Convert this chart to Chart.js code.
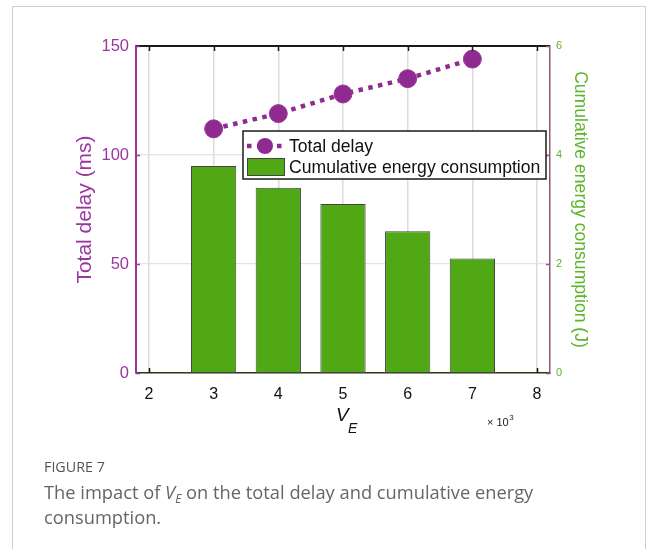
<!DOCTYPE html>
<html>
<head>
<meta charset="utf-8">
<script src="https://cdn.jsdelivr.net/npm/chart.js@4/dist/chart.umd.min.js"></script>
<style>
  html, body { margin: 0; padding: 0; background: #fff; }
  #wrap { position: relative; width: 656px; height: 549px; overflow: hidden; }
  #frame { position: absolute; left: 12px; top: 6px; width: 634px; height: 600px;
           border: 1px solid #cfcfcf; box-sizing: border-box; }
  canvas { position: absolute; left: 0; top: 0; }
  #caption { position: absolute; left: 44px; top: 457px; width: 590px;
             font-family: "Open Sans", "Noto Sans", sans-serif; color: #666; }
  #caption .fig { font-size: 14.3px; color: #555; line-height: 20px; }
  #caption .txt { font-size: 18.3px; line-height: 25px; margin-top: 2px; }
  #caption sub { font-size: 12px; vertical-align: -4px; line-height: 0; }
</style>
</head>
<body>
<div id="wrap">
  <div id="frame"></div>
  <canvas id="c" width="656" height="549"></canvas>
  <div id="caption">
    <div class="fig">FIGURE 7</div>
    <div class="txt">The impact of <i>V</i><sub><i>E</i></sub> on the total delay and cumulative energy<br>consumption.</div>
  </div>
</div>
<script>
// V_E values (×10^3)
const veValues = [3, 4, 5, 6, 7];
// Total delay (ms)
const totalDelay = [112, 119, 128, 135, 144];
// Cumulative energy consumption (J)
const energyUse = [3.8, 3.4, 3.1, 2.6, 2.1];
// Axis ranges and ticks
const xRange = [1.8, 8.2];
const delayTicks = [0, 50, 100, 150];
const energyTicks = [0, 2, 4, 6];

const PURPLE = '#8f2a91';
const PURPLE_TXT = '#9b36a0';
const GREEN = '#50a814';
const GREEN_TXT = '#5cb52a';
const MAUVE = '#8c5a6e';
const FONT = '"Liberation Sans", Arial, sans-serif';

const delayPoints = veValues.map((v, i) => ({ x: v, y: totalDelay[i] }));
const energyPoints = veValues.map((v, i) => ({ x: v, y: energyUse[i] }));

// Extra decorations: top frame, inside tick marks, x-axis label, legend box
const decor = {
  id: 'decor',
  beforeDatasetsDraw(chart) {
    const { ctx, chartArea: a, scales } = chart;
    ctx.save();
    ctx.strokeStyle = '#111';
    ctx.lineWidth = 1.5;
    scales.x.ticks.forEach(t => {
      const px = Math.round(scales.x.getPixelForValue(t.value)) + 0.5;
      ctx.beginPath(); ctx.moveTo(px, a.bottom); ctx.lineTo(px, a.bottom - 5); ctx.stroke();
    });
    ctx.restore();
  },
  afterDraw(chart) {
    const { ctx, chartArea: a, scales } = chart;
    ctx.save();
    // top frame line
    ctx.strokeStyle = '#1a1a1a';
    ctx.lineWidth = 2;
    ctx.beginPath(); ctx.moveTo(a.left, a.top); ctx.lineTo(a.right, a.top); ctx.stroke();
    // top ticks
    ctx.lineWidth = 1.5;
    scales.x.ticks.forEach(t => {
      const px = Math.round(scales.x.getPixelForValue(t.value)) + 0.5;
      ctx.beginPath(); ctx.moveTo(px, a.top); ctx.lineTo(px, a.top + 5); ctx.stroke();
    });
    // left ticks (inside)
    ctx.strokeStyle = PURPLE_TXT;
    scales.y.ticks.forEach(t => {
      const py = Math.round(scales.y.getPixelForValue(t.value)) + 0.5;
      ctx.beginPath(); ctx.moveTo(a.left, py); ctx.lineTo(a.left + 4, py); ctx.stroke();
    });
    // right ticks (inside)
    ctx.strokeStyle = MAUVE;
    scales.y1.ticks.forEach(t => {
      const py = Math.round(scales.y1.getPixelForValue(t.value)) + 0.5;
      ctx.beginPath(); ctx.moveTo(a.right, py); ctx.lineTo(a.right - 4, py); ctx.stroke();
    });

    // x-axis label V_E and multiplier
    ctx.fillStyle = '#111';
    ctx.textBaseline = 'alphabetic';
    ctx.textAlign = 'left';
    const cx = (a.left + a.right) / 2;
    ctx.font = 'italic 19px ' + FONT;
    ctx.fillText('V', cx - 7, a.bottom + 48);
    ctx.font = 'italic 14px ' + FONT;
    ctx.fillText('E', cx + 5, a.bottom + 60);
    ctx.font = '11px ' + FONT;
    ctx.fillStyle = '#222';
    const mx = a.right - 63;
    ctx.fillText('\u00d7 10', mx, a.bottom + 53);
    const mw = ctx.measureText('\u00d7 10').width;
    ctx.font = '8px ' + FONT;
    ctx.fillText('3', mx + mw + 0.5, a.bottom + 47);

    // legend box
    const lx = a.left + 107, ly = a.top + 85, lw = 303, lh = 48;
    ctx.fillStyle = '#fff';
    ctx.fillRect(lx, ly, lw, lh);
    ctx.strokeStyle = '#1a1a1a';
    ctx.lineWidth = 1.5;
    ctx.strokeRect(lx, ly, lw, lh);
    // line entry
    const r1 = ly + 15;
    ctx.strokeStyle = PURPLE;
    ctx.lineWidth = 4.5;
    ctx.setLineDash([4.5, 5.5]);
    ctx.beginPath(); ctx.moveTo(lx + 4, r1); ctx.lineTo(lx + 41, r1); ctx.stroke();
    ctx.setLineDash([]);
    ctx.fillStyle = PURPLE;
    ctx.beginPath(); ctx.arc(lx + 22, r1, 8, 0, Math.PI * 2); ctx.fill();
    // bar entry
    const r2 = ly + 36;
    ctx.fillStyle = GREEN;
    ctx.fillRect(lx + 4, r2 - 9, 38, 18);
    ctx.strokeStyle = '#444';
    ctx.lineWidth = 1;
    ctx.strokeRect(lx + 4.5, r2 - 8.5, 37, 17);
    // labels
    ctx.fillStyle = '#111';
    ctx.font = '17.6px ' + FONT;
    ctx.textBaseline = 'middle';
    ctx.fillText('Total delay', lx + 46, r1 + 1);
    ctx.fillText('Cumulative energy consumption', lx + 46, r2 + 1);
    ctx.restore();
  }
};

new Chart(document.getElementById('c'), {
  type: 'bar',
  data: {
    datasets: [
      {
        type: 'line',
        label: 'Total delay',
        data: delayPoints,
        yAxisID: 'y',
        order: 0,
        borderColor: PURPLE,
        borderWidth: 4.5,
        borderDash: [4.5, 5.5],
        borderCapStyle: 'butt',
        pointRadius: 9,
        pointBackgroundColor: PURPLE,
        pointBorderColor: '#9a3a9c',
        pointBorderWidth: 1,
        tension: 0
      },
      {
        type: 'bar',
        label: 'Cumulative energy consumption',
        data: energyPoints,
        yAxisID: 'y1',
        order: 1,
        backgroundColor: GREEN,
        borderColor: '#444',
        borderWidth: 1,
        borderSkipped: false,
        barPercentage: 0.7,
        categoryPercentage: 1.0
      }
    ]
  },
  options: {
    responsive: false,
    animation: false,
    layout: { padding: { top: 46, left: 0, right: 0, bottom: 0 } },
    plugins: { legend: { display: false }, tooltip: { enabled: false } },
    scales: {
      x: {
        type: 'linear',
        position: 'bottom',
        min: xRange[0],
        max: xRange[1],
        offset: false,
        grid: { offset: false, color: '#dcdcdc', lineWidth: 1.5, drawTicks: false },
        border: { color: '#243d16', width: 1.5 },
        ticks: { stepSize: 1, includeBounds: false, padding: 12, color: '#111',
                 font: { family: FONT, size: 16 } },
        afterFit(s) { s.width; s.height = 176; }
      },
      y: {
        position: 'left',
        min: delayTicks[0],
        max: delayTicks[delayTicks.length - 1],
        grid: { color: '#f1d9f1', lineWidth: 1.2, drawTicks: false },
        border: { color: PURPLE_TXT, width: 2 },
        ticks: { stepSize: 50, padding: 7, color: PURPLE_TXT,
                 font: { family: FONT, size: 16.5 } },
        title: { display: true, text: 'Total delay (ms)', color: PURPLE_TXT,
                 font: { family: FONT, size: 21 }, padding: { top: 73 } },
        afterFit(s) { s.width = 136; }
      },
      y1: {
        position: 'right',
        min: energyTicks[0],
        max: energyTicks[energyTicks.length - 1],
        grid: { display: false, drawTicks: false },
        border: { color: MAUVE, width: 1.5 },
        ticks: { stepSize: 2, padding: 6, color: GREEN_TXT,
                 font: { family: FONT, size: 11 } },
        title: { display: true, text: 'Cumulative energy consumption (J)', color: GREEN_TXT,
                 font: { family: FONT, size: 17.6 }, padding: { top: 66 } },
        afterFit(s) { s.width = 106; }
      }
    }
  },
  plugins: [decor]
});
</script>
</body>
</html>
